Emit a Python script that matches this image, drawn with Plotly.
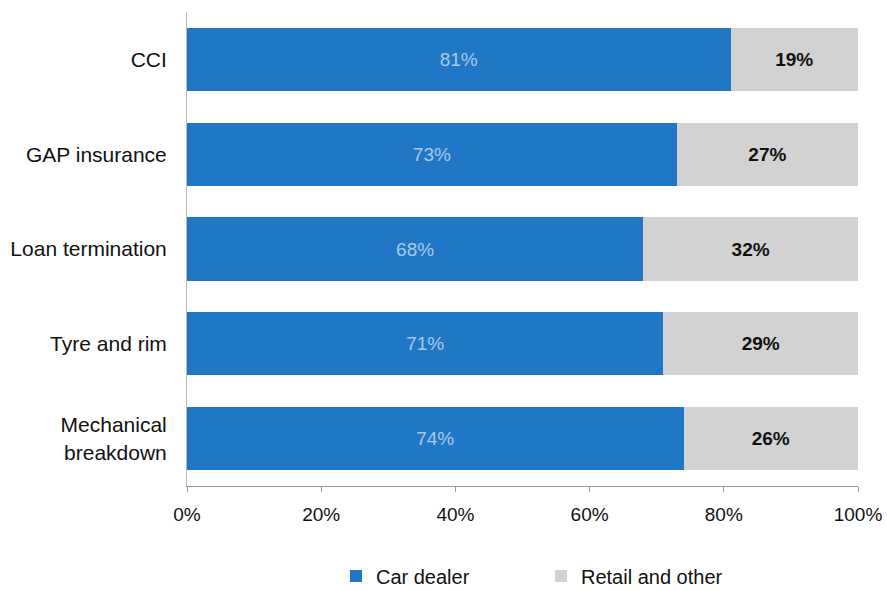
import plotly.graph_objects as go

categories = ["CCI", "GAP insurance", "Loan termination", "Tyre and rim", "Mechanical<br>breakdown"]
car_dealer = [81, 73, 68, 71, 74]
retail_other = [19, 27, 32, 29, 26]
tick_vals = [0, 20, 40, 60, 80, 100]
tick_text = ["0%", "20%", "40%", "60%", "80%", "100%"]

fig = go.Figure()
fig.add_trace(go.Bar(
    y=categories, x=car_dealer, orientation="h", name="Car dealer",
    marker=dict(color="#1f77c6", line=dict(width=0)),
    text=[f"{v}%" for v in car_dealer], textposition="inside", insidetextanchor="middle",
    textfont=dict(color="#a9c9ea", size=19, family="Liberation Sans"),
))
fig.add_trace(go.Bar(
    y=categories, x=retail_other, orientation="h", name="Retail and other",
    marker=dict(color="#d2d2d2", line=dict(width=0)),
    text=[f"<b>{v}%</b>" for v in retail_other], textposition="inside", insidetextanchor="middle",
    textfont=dict(color="#111111", size=19, family="Liberation Sans"),
))

fig.update_layout(
    barmode="stack", bargap=0.335,
    width=887, height=591,
    margin=dict(l=187, r=29, t=12, b=105, autoexpand=False),
    plot_bgcolor="white", paper_bgcolor="white",
    font=dict(family="Liberation Sans", size=20, color="#111111"),
    showlegend=True,
    legend=dict(orientation="h", x=0.222, xanchor="left", y=-0.19, yanchor="middle",
                font=dict(size=20), itemwidth=30, entrywidth=160, traceorder="normal",
                borderwidth=0),
    uniformtext=dict(minsize=10, mode="show"),
)
fig.update_xaxes(range=[0, 100], tickvals=tick_vals, ticktext=tick_text,
                 showgrid=False, zeroline=False, showline=True, linecolor="#999999",
                 ticks="outside", tickcolor="#999999", ticklen=5, ticklabelstandoff=6,
                 tickfont=dict(size=19), automargin=False)
fig.update_yaxes(autorange="reversed", showgrid=False, showline=True, linecolor="#bbbbbb",
                 ticks="", ticklabelstandoff=15, tickfont=dict(size=21), automargin=False)

fig.write_html("out.html")
